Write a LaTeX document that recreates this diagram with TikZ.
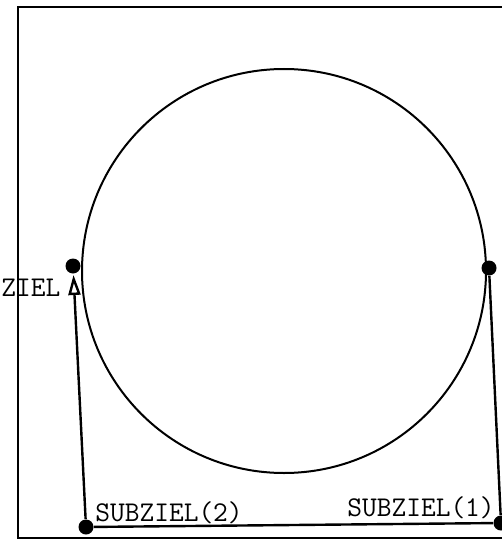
\documentclass[tikz,border=0pt]{standalone}
\usetikzlibrary{arrows.meta}
\tikzset{
  punkt/.style={circle,fill=black,inner sep=0pt,minimum size=7.5pt},
  marke/.style={font=\ttfamily\fontsize{14.3}{17}\selectfont,inner sep=0pt,anchor=base west},
  weg/.style={line width=1.2pt}
}
\begin{document}
\begin{tikzpicture}[x=0.5pt,y=-0.5pt]
\useasboundingbox (0,0) rectangle (502,540);
\clip (0,0) rectangle (502,540);
% Rahmen und Kreis
\draw[line width=1.4pt] (18,7) rectangle (530,538);
\draw[line width=1pt] (284,271) circle[radius=202];
% Punkte
\node[punkt] (start) at (489,268) {};
\node[punkt] (ziel) at (73,266) {};
\node[punkt] (sub1) at (501,523) {};
\node[punkt] (sub2) at (86,527) {};
\coordinate (zielspitze) at (73.5,275);
% Weg
\draw[weg] (start) -- (sub1) -- (sub2);
\draw[weg,-{Triangle[open,length=10pt,width=6pt]}] (sub2) -- (zielspitze);
% Beschriftung
\node[marke] at (1,296) {ZIEL};
\node[marke] at (95,521) {SUBZIEL(2)};
\node[marke] at (347,516) {SUBZIEL(1)};
\end{tikzpicture}
\end{document}
